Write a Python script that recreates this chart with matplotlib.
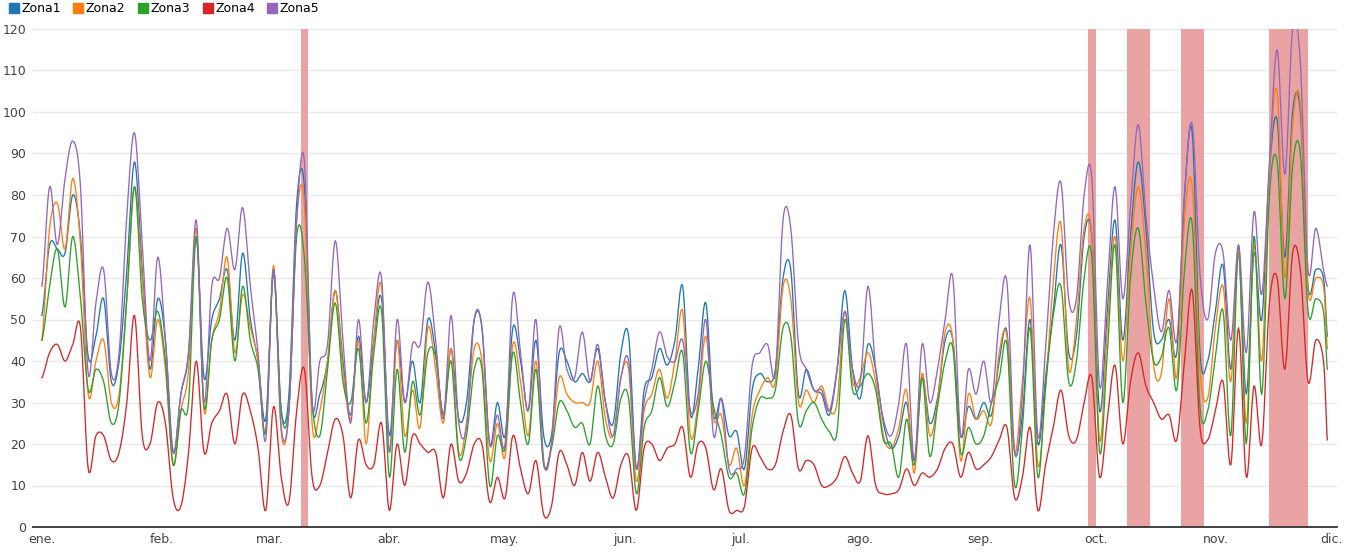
import numpy as np
import pandas as pd
import matplotlib
matplotlib.use("Agg")
import matplotlib.pyplot as plt
from matplotlib.lines import Line2D

# ----------------------------
# Data (one value every 2 days from 1 Jan)
# ----------------------------
START = pd.Timestamp("2019-01-01")
days = list(range(0, 334, 2)) + [333]

zona1 = [51, 68, 67, 66, 80, 70, 41, 46, 55, 35, 40, 62, 88, 62, 38, 55, 45, 18, 32, 42,
         70, 36, 50, 55, 62, 45, 66, 50, 40, 26, 61, 28, 32, 78, 82, 30, 32, 40, 57, 40,
         27, 46, 30, 45, 55, 22, 45, 30, 40, 30, 50, 42, 27, 43, 26, 30, 50, 48, 20, 30,
         22, 48, 40, 28, 45, 22, 22, 42, 40, 35, 37, 35, 43, 30, 25, 42, 46, 14, 33, 36,
         43, 39, 45, 58, 27, 38, 54, 27, 31, 22, 23, 14, 33, 37, 35, 38, 60, 62, 32, 38,
         33, 32, 27, 38, 57, 38, 31, 44, 38, 25, 19, 22, 30, 16, 36, 25, 31, 45, 45, 22,
         29, 26, 30, 27, 40, 47, 18, 27, 50, 20, 36, 52, 68, 42, 46, 70, 70, 28, 52, 74,
         45, 70, 88, 72, 47, 45, 50, 42, 80, 95, 42, 40, 52, 63, 38, 66, 32, 66, 50, 86,
         98, 65, 100, 100, 58, 62, 60, 46]
zona2 = [45, 72, 78, 67, 84, 68, 32, 40, 45, 30, 32, 55, 82, 60, 36, 50, 38, 15, 28, 38,
         72, 28, 45, 52, 65, 42, 56, 48, 40, 23, 63, 23, 28, 74, 78, 25, 28, 40, 57, 38,
         26, 45, 20, 45, 58, 18, 45, 22, 33, 24, 48, 38, 25, 43, 18, 25, 43, 40, 16, 25,
         17, 44, 35, 22, 40, 15, 20, 36, 32, 30, 30, 30, 40, 26, 22, 36, 38, 11, 28, 32,
         38, 31, 40, 52, 22, 30, 46, 26, 27, 15, 19, 10, 27, 33, 36, 35, 58, 55, 30, 33,
         30, 34, 28, 30, 52, 35, 36, 42, 35, 22, 19, 24, 33, 13, 37, 22, 30, 47, 45, 16,
         32, 26, 28, 25, 42, 46, 18, 35, 55, 15, 33, 59, 73, 38, 50, 72, 70, 21, 48, 70,
         40, 66, 82, 66, 39, 37, 55, 36, 74, 82, 38, 31, 48, 58, 35, 66, 25, 68, 40, 86,
         105, 60, 97, 102, 57, 60, 58, 43]
zona3 = [45, 58, 67, 53, 70, 55, 33, 38, 35, 25, 30, 55, 82, 55, 45, 52, 40, 15, 28, 30,
         70, 29, 45, 50, 60, 40, 58, 45, 38, 23, 62, 28, 29, 70, 65, 30, 22, 38, 54, 35,
         30, 43, 25, 42, 52, 12, 38, 18, 35, 27, 42, 41, 27, 40, 17, 22, 38, 38, 10, 22,
         19, 42, 30, 20, 38, 15, 19, 30, 28, 24, 25, 20, 34, 22, 20, 31, 31, 8, 24, 28,
         36, 29, 35, 42, 18, 28, 40, 29, 22, 12, 13, 8, 24, 31, 31, 33, 48, 46, 25, 28,
         30, 26, 23, 23, 50, 33, 34, 37, 33, 21, 20, 12, 26, 15, 36, 17, 29, 40, 43, 18,
         24, 20, 22, 30, 36, 44, 10, 24, 48, 12, 34, 51, 58, 35, 40, 60, 65, 18, 42, 68,
         30, 60, 72, 54, 40, 41, 48, 33, 62, 73, 29, 28, 41, 52, 22, 68, 20, 70, 32, 80,
         88, 55, 87, 90, 52, 55, 52, 38]
zona4 = [36, 42, 44, 40, 44, 48, 14, 22, 22, 16, 18, 30, 51, 22, 20, 30, 25, 7, 5, 18,
         40, 18, 25, 28, 32, 20, 32, 28, 19, 4, 29, 12, 6, 28, 38, 12, 10, 18, 26, 22,
         7, 21, 15, 15, 25, 4, 20, 10, 22, 20, 18, 18, 7, 20, 11, 13, 20, 20, 6, 12,
         7, 22, 14, 8, 16, 3, 5, 18, 15, 10, 18, 11, 18, 12, 7, 15, 17, 4, 19, 20,
         16, 19, 20, 24, 12, 20, 19, 9, 14, 4, 4, 5, 19, 17, 14, 15, 23, 27, 14, 16,
         15, 10, 10, 12, 17, 13, 11, 22, 10, 8, 8, 9, 14, 10, 13, 12, 14, 19, 20, 12,
         18, 14, 15, 17, 21, 24, 7, 12, 24, 4, 15, 24, 33, 22, 21, 30, 36, 12, 26, 39,
         20, 35, 42, 34, 30, 26, 27, 21, 40, 57, 24, 21, 28, 35, 15, 48, 12, 34, 20, 54,
         60, 38, 66, 62, 35, 45, 40, 21]
zona5 = [58, 82, 68, 84, 93, 82, 37, 54, 62, 37, 42, 75, 95, 68, 40, 65, 45, 18, 32, 42,
         74, 30, 58, 60, 72, 62, 77, 58, 42, 21, 62, 24, 28, 74, 88, 30, 40, 44, 69, 45,
         25, 50, 30, 50, 60, 18, 50, 30, 44, 44, 59, 45, 26, 51, 25, 24, 50, 48, 20, 27,
         20, 56, 42, 28, 50, 16, 20, 48, 38, 36, 47, 35, 44, 30, 22, 36, 40, 14, 30, 38,
         47, 41, 40, 45, 28, 32, 50, 22, 31, 14, 14, 17, 39, 42, 44, 37, 74, 72, 44, 38,
         33, 33, 28, 38, 52, 38, 35, 58, 38, 26, 22, 30, 44, 16, 44, 30, 38, 50, 60, 22,
         38, 32, 40, 30, 50, 59, 18, 32, 68, 22, 43, 70, 83, 55, 55, 80, 84, 34, 58, 82,
         55, 77, 97, 75, 58, 47, 57, 45, 80, 97, 61, 50, 66, 66, 45, 68, 42, 76, 56, 88,
         115, 85, 120, 112, 62, 72, 62, 58]

series_names = ["Zona1", "Zona2", "Zona3", "Zona4", "Zona5"]
series_values = [zona1, zona2, zona3, zona4, zona5]
series_colors = ["#1f77b4", "#ff7f0e", "#2ca02c", "#d62728", "#9467bd"]

# highlighted periods (red bands)
band_start = ["2019-03-09", "2019-09-29", "2019-10-09", "2019-10-23", "2019-11-15"]
band_end = ["2019-03-11", "2019-10-01", "2019-10-15", "2019-10-29", "2019-11-25"]

month_labels = ["ene.", "feb.", "mar.", "abr.", "may.", "jun.",
                "jul.", "ago.", "sep.", "oct.", "nov.", "dic."]


def smooth_curve(x, y, n=10):
    """Catmull-Rom spline through the points (like a 'function' curve)."""
    x = np.asarray(x, float)
    y = np.asarray(y, float)
    px = np.concatenate([[2 * x[0] - x[1]], x, [2 * x[-1] - x[-2]]])
    py = np.concatenate([[y[0]], y, [y[-1]]])
    t = np.linspace(0, 1, n, endpoint=False)[None, :]
    def seg(p):
        p0, p1, p2, p3 = p[:-3, None], p[1:-2, None], p[2:-1, None], p[3:, None]
        return 0.5 * ((2 * p1) + (-p0 + p2) * t + (2 * p0 - 5 * p1 + 4 * p2 - p3) * t ** 2
                      + (-p0 + 3 * p1 - 3 * p2 + p3) * t ** 3)
    sx = np.append(seg(px).ravel(), x[-1])
    sy = np.append(seg(py).ravel(), y[-1])
    return sx, sy


fig = plt.figure(figsize=(13.46, 5.54), dpi=100)
ax = fig.add_axes([33 / 1346, 27 / 554, 1304 / 1346, 498 / 554])

# bands
for s, e in zip(band_start, band_end):
    d0 = (pd.Timestamp(s) - START).days
    d1 = (pd.Timestamp(e) - START).days
    ax.axvspan(d0, d1, color="#e9a3a3", lw=0, zorder=1)

for name, vals, col in zip(series_names, series_values, series_colors):
    sx, sy = smooth_curve(days, vals)
    ax.plot(sx, sy, color=col, lw=0.95, zorder=3, solid_joinstyle="round")

ax.set_ylim(0, 120)
ax.set_xlim(-2.3, 335.5)
ax.set_yticks(np.arange(0, 121, 10))
month_starts = pd.date_range("2019-01-01", "2019-12-01", freq="MS")
ax.set_xticks([(m - START).days for m in month_starts])
ax.set_xticklabels(month_labels)

ax.grid(axis="y", color="#e8e8e8", lw=1, zorder=0)
ax.set_axisbelow(True)
for side in ["top", "right", "left"]:
    ax.spines[side].set_visible(False)
ax.spines["bottom"].set_color("#333333")
ax.spines["bottom"].set_linewidth(1.3)
ax.spines["bottom"].set_zorder(4)
ax.tick_params(axis="both", length=0, labelsize=9, colors="#444444")
ax.tick_params(axis="y", pad=5)
ax.tick_params(axis="x", pad=4)

handles = [Line2D([], [], marker="s", ls="none", color=c, markersize=7.5) for c in series_colors]
fig.legend(handles, series_names, loc="upper left", bbox_to_anchor=(0.0, 1.01), ncol=5,
           frameon=False, fontsize=9, handletextpad=0.1, columnspacing=0.9,
           handlelength=1.0, borderaxespad=0.2)

fig.savefig("out.png", dpi=100)
